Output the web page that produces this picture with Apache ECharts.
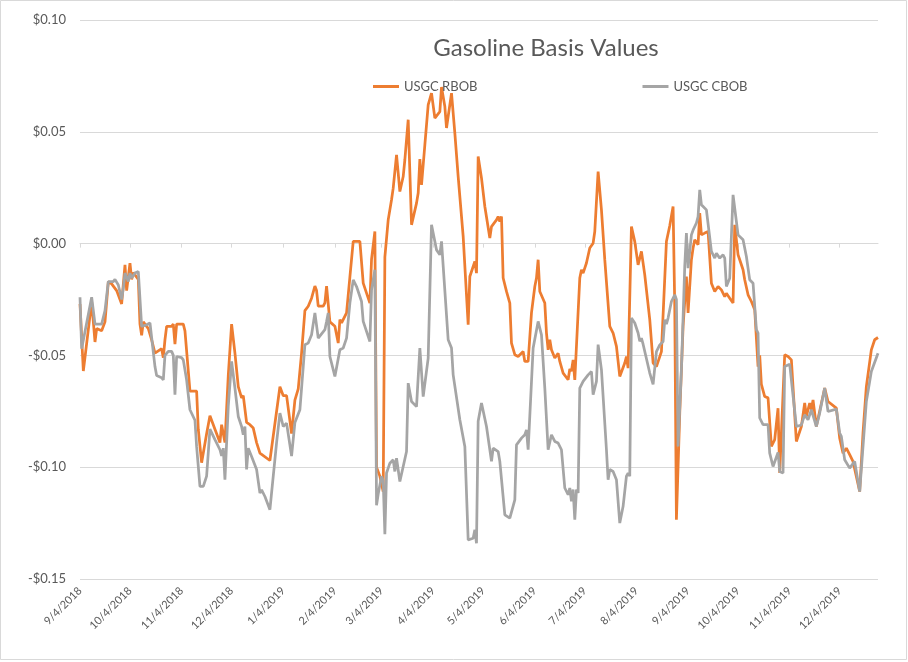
<!DOCTYPE html>
<html>
<head>
<meta charset="utf-8">
<script src="https://cdn.jsdelivr.net/npm/echarts@6/dist/echarts.min.js"></script>
<style>
html,body{margin:0;padding:0;background:#fff;}
#chart{width:908px;height:662px;}
</style>
</head>
<body>
<div id="chart"></div>
<script>
const chartTitle = 'Gasoline Basis Values';
const seriesNames = ['USGC RBOB', 'USGC CBOB'];
const axisStart = '2018-09-04';
const axisEnd = '2019-12-27';
const tickDates = ['2018-09-04','2018-10-04','2018-11-04','2018-12-04','2019-01-04','2019-02-04','2019-03-04','2019-04-04','2019-05-04','2019-06-04','2019-07-04','2019-08-04','2019-09-04','2019-10-04','2019-11-04','2019-12-04'];
const yMin = -0.15, yMax = 0.10, yStep = 0.05;

const rbob = [
['2018-09-04',-0.027],['2018-09-06',-0.057],['2018-09-11',-0.026],['2018-09-13',-0.044],['2018-09-14',-0.038],['2018-09-17',-0.039],['2018-09-19',-0.035],['2018-09-21',-0.017],['2018-09-23',-0.018],['2018-09-26',-0.021],['2018-09-29',-0.027],
['2018-10-01',-0.0095],['2018-10-02',-0.021],['2018-10-04',-0.0087],['2018-10-05',-0.016],['2018-10-06',-0.013],['2018-10-08',-0.015],['2018-10-09',-0.016],['2018-10-10',-0.036],['2018-10-11',-0.041],['2018-10-12',-0.035],['2018-10-13',-0.036],['2018-10-15',-0.038],['2018-10-17',-0.043],['2018-10-19',-0.049],['2018-10-21',-0.048],['2018-10-23',-0.047],['2018-10-24',-0.051],['2018-10-25',-0.043],['2018-10-26',-0.037],['2018-10-29',-0.037],['2018-10-30',-0.036],['2018-10-31',-0.045],
['2018-11-01',-0.036],['2018-11-05',-0.036],['2018-11-06',-0.039],['2018-11-09',-0.066],['2018-11-13',-0.066],['2018-11-14',-0.083],['2018-11-16',-0.098],['2018-11-19',-0.085],['2018-11-21',-0.077],['2018-11-24',-0.083],['2018-11-27',-0.089],['2018-11-28',-0.081],['2018-11-29',-0.081],['2018-11-30',-0.089],
['2018-12-02',-0.059],['2018-12-04',-0.036],['2018-12-06',-0.049],['2018-12-08',-0.064],['2018-12-10',-0.069],['2018-12-11',-0.068],['2018-12-13',-0.080],['2018-12-14',-0.0795],['2018-12-15',-0.081],['2018-12-17',-0.0825],['2018-12-19',-0.089],['2018-12-21',-0.0937],['2018-12-22',-0.093],['2018-12-27',-0.097],
['2019-01-02',-0.064],['2019-01-04',-0.068],['2019-01-06',-0.068],['2019-01-07',-0.0676],['2019-01-09',-0.085],['2019-01-11',-0.070],['2019-01-13',-0.065],['2019-01-15',-0.049],['2019-01-17',-0.030],['2019-01-19',-0.028],['2019-01-21',-0.0244],['2019-01-23',-0.019],['2019-01-24',-0.021],['2019-01-25',-0.028],['2019-01-28',-0.028],['2019-01-29',-0.0265],['2019-01-30',-0.019],['2019-01-31',-0.019],
['2019-02-01',-0.035],['2019-02-04',-0.037],['2019-02-06',-0.0445],['2019-02-07',-0.034],['2019-02-08',-0.0355],['2019-02-11',-0.031],['2019-02-13',-0.015],['2019-02-15',0.001],['2019-02-19',0.001],['2019-02-21',-0.0177],['2019-02-22',-0.0185],['2019-02-25',-0.0266],['2019-02-26',-0.007],['2019-02-28',0.0054],
['2019-03-01',-0.100],['2019-03-03',-0.104],['2019-03-05',-0.111],['2019-03-06',-0.006],['2019-03-07',-0.006],['2019-03-08',0.0106],['2019-03-10',0.0196],['2019-03-11',0.0248],['2019-03-12',0.0248],['2019-03-13',0.0397],['2019-03-14',0.0315],['2019-03-15',0.0233],['2019-03-17',0.030],['2019-03-18',0.0375],['2019-03-20',0.0554],['2019-03-22',0.0084],['2019-03-25',0.0181],['2019-03-26',0.0226],['2019-03-27',0.0378],['2019-03-28',0.0263],['2019-03-30',0.0442],
['2019-04-01',0.062],['2019-04-03',0.0673],['2019-04-05',0.0561],['2019-04-08',0.059],['2019-04-09',0.070],['2019-04-11',0.0613],['2019-04-12',0.0517],['2019-04-15',0.0673],['2019-04-17',0.0494],['2019-04-19',0.030],['2019-04-22',0.0032],['2019-04-25',-0.0363],['2019-04-26',-0.0147],['2019-04-29',-0.008],['2019-04-30',-0.0132],
['2019-05-01',0.039],['2019-05-03',0.0293],['2019-05-05',0.0166],['2019-05-08',0.0025],['2019-05-09',0.0076],['2019-05-12',0.0106],['2019-05-13',0.0121],['2019-05-14',0.0099],['2019-05-15',0.0121],['2019-05-16',-0.0154],['2019-05-18',-0.0214],['2019-05-20',-0.0266],['2019-05-21',-0.0445],['2019-05-23',-0.0497],['2019-05-25',-0.0505],['2019-05-28',-0.0483],['2019-05-29',-0.0527],['2019-05-30',-0.052],['2019-05-31',-0.0527],
['2019-06-02',-0.031],['2019-06-04',-0.0192],['2019-06-05',-0.0154],['2019-06-06',-0.0072],['2019-06-07',-0.0214],['2019-06-10',-0.0266],['2019-06-11',-0.040],['2019-06-12',-0.0475],['2019-06-13',-0.043],['2019-06-14',-0.0475],['2019-06-16',-0.0512],['2019-06-18',-0.049],['2019-06-19',-0.0527],['2019-06-20',-0.052],['2019-06-21',-0.0579],['2019-06-24',-0.0609],['2019-06-25',-0.0561],['2019-06-26',-0.057],['2019-06-27',-0.052],['2019-06-28',-0.061],
['2019-07-01',-0.0154],['2019-07-02',-0.0117],['2019-07-03',-0.0132],['2019-07-05',-0.0087],['2019-07-07',-0.002],['2019-07-09',0.0002],['2019-07-10',0.0054],['2019-07-12',0.0322],['2019-07-14',0.0151],['2019-07-16',-0.0072],['2019-07-19',-0.037],['2019-07-21',-0.040],['2019-07-23',-0.046],['2019-07-25',-0.0594],['2019-07-28',-0.0534],['2019-07-29',-0.0505],['2019-07-30',-0.0557],
['2019-08-01',0.0076],['2019-08-03',0.0009],['2019-08-05',-0.0095],['2019-08-07',-0.0035],['2019-08-09',-0.014],['2019-08-12',-0.034],['2019-08-14',-0.0534],['2019-08-16',-0.055],['2019-08-19',-0.0483],['2019-08-20',-0.0475],['2019-08-22',0.0009],['2019-08-24',0.008],['2019-08-26',0.0166],['2019-08-27',-0.028],['2019-08-28',-0.1235],['2019-08-30',-0.0758],
['2019-09-01',-0.037],['2019-09-03',-0.0147],['2019-09-04',-0.031],['2019-09-06',-0.0072],['2019-09-07',-0.002],['2019-09-08',0.0017],['2019-09-10',-0.0005],['2019-09-11',0.0136],['2019-09-12',0.0039],['2019-09-14',0.0047],['2019-09-16',0.0054],['2019-09-18',-0.0177],['2019-09-20',-0.0214],['2019-09-22',-0.0192],['2019-09-24',-0.0207],['2019-09-26',-0.0237],['2019-09-27',-0.0222],['2019-09-29',-0.0244],
['2019-10-01',-0.0266],['2019-10-02',0.0084],['2019-10-04',-0.005],['2019-10-07',-0.0117],['2019-10-08',-0.0162],['2019-10-10',-0.0229],['2019-10-11',-0.0229],['2019-10-12',-0.0259],['2019-10-14',-0.0296],['2019-10-16',-0.055],['2019-10-17',-0.050],['2019-10-18',-0.063],['2019-10-20',-0.0684],['2019-10-22',-0.069],['2019-10-24',-0.0907],['2019-10-26',-0.0877],['2019-10-28',-0.0736],['2019-10-29',-0.1026],
['2019-11-01',-0.0497],['2019-11-03',-0.0505],['2019-11-05',-0.052],['2019-11-08',-0.0885],['2019-11-11',-0.0818],['2019-11-13',-0.0713],['2019-11-14',-0.0773],['2019-11-16',-0.0713],['2019-11-17',-0.0743],['2019-11-18',-0.0699],['2019-11-20',-0.0818],['2019-11-25',-0.0646],['2019-11-27',-0.0706],
['2019-12-02',-0.0736],['2019-12-04',-0.087],['2019-12-06',-0.0937],['2019-12-08',-0.0915],['2019-12-10',-0.0944],['2019-12-12',-0.0974],['2019-12-13',-0.0974],['2019-12-16',-0.1109],['2019-12-18',-0.0847],['2019-12-20',-0.064],['2019-12-23',-0.0475],['2019-12-25',-0.043],['2019-12-27',-0.042]
];

const cbob = [
['2018-09-04',-0.024],['2018-09-05',-0.047],['2018-09-11',-0.024],['2018-09-13',-0.036],['2018-09-17',-0.036],['2018-09-19',-0.030],['2018-09-21',-0.017],['2018-09-24',-0.017],['2018-09-25',-0.016],['2018-09-27',-0.0185],['2018-09-29',-0.025],['2018-09-30',-0.020],
['2018-10-01',-0.0132],['2018-10-03',-0.0169],['2018-10-04',-0.0132],['2018-10-05',-0.0154],['2018-10-07',-0.0132],['2018-10-09',-0.0125],['2018-10-11',-0.037],['2018-10-14',-0.0363],['2018-10-16',-0.0355],['2018-10-17',-0.0348],['2018-10-19',-0.055],['2018-10-20',-0.059],['2018-10-23',-0.060],['2018-10-24',-0.061],['2018-10-25',-0.050],['2018-10-27',-0.0482],['2018-10-29',-0.0482],['2018-10-30',-0.050],['2018-10-31',-0.0676],
['2018-11-01',-0.0505],['2018-11-04',-0.051],['2018-11-05',-0.052],['2018-11-07',-0.061],['2018-11-09',-0.0743],['2018-11-12',-0.079],['2018-11-13',-0.0907],['2018-11-15',-0.1086],['2018-11-17',-0.1086],['2018-11-19',-0.104],['2018-11-21',-0.083],['2018-11-24',-0.0877],['2018-11-27',-0.0922],['2018-11-28',-0.095],['2018-11-29',-0.0915],['2018-11-30',-0.1056],
['2018-12-02',-0.0728],['2018-12-04',-0.0527],['2018-12-06',-0.0646],['2018-12-08',-0.0773],['2018-12-10',-0.0818],['2018-12-11',-0.0855],['2018-12-12',-0.0818],['2018-12-13',-0.101],['2018-12-14',-0.0915],['2018-12-16',-0.0952],['2018-12-19',-0.101],['2018-12-21',-0.1116],['2018-12-22',-0.1101],['2018-12-24',-0.1131],['2018-12-27',-0.119],['2018-12-31',-0.089],
['2019-01-02',-0.0758],['2019-01-04',-0.0818],['2019-01-06',-0.0803],['2019-01-07',-0.0795],['2019-01-09',-0.095],['2019-01-11',-0.080],['2019-01-14',-0.0743],['2019-01-16',-0.055],['2019-01-17',-0.0452],['2019-01-19',-0.0445],['2019-01-21',-0.0408],['2019-01-23',-0.031],['2019-01-25',-0.0423],['2019-01-29',-0.0385],['2019-01-30',-0.0348],['2019-01-31',-0.031],
['2019-02-01',-0.0505],['2019-02-04',-0.0594],['2019-02-05',-0.0587],['2019-02-07',-0.0475],['2019-02-09',-0.0467],['2019-02-11',-0.0423],['2019-02-13',-0.0266],['2019-02-15',-0.0162],['2019-02-17',-0.0192],['2019-02-20',-0.0259],['2019-02-21',-0.0348],['2019-02-22',-0.0348],['2019-02-25',-0.0438],['2019-02-26',-0.0207],['2019-02-28',-0.0117],
['2019-03-01',-0.117],['2019-03-02',-0.112],['2019-03-04',-0.104],['2019-03-05',-0.106],['2019-03-06',-0.130],['2019-03-07',-0.1026],['2019-03-08',-0.1004],['2019-03-09',-0.0982],['2019-03-11',-0.0967],['2019-03-12',-0.1019],['2019-03-13',-0.096],['2019-03-15',-0.1064],['2019-03-19',-0.093],['2019-03-20',-0.0624],['2019-03-22',-0.0706],['2019-03-25',-0.0729],['2019-03-27',-0.0467],['2019-03-29',-0.0684],
['2019-04-01',-0.0512],['2019-04-03',0.0084],['2019-04-04',0.0076],['2019-04-06',-0.0028],['2019-04-08',-0.005],['2019-04-09',0.001],['2019-04-13',-0.043],['2019-04-15',-0.0467],['2019-04-16',-0.0587],['2019-04-20',-0.0788],['2019-04-23',-0.0907],['2019-04-25',-0.1325],['2019-04-28',-0.1318],['2019-04-29',-0.128],['2019-04-30',-0.134],
['2019-05-01',-0.0795],['2019-05-03',-0.0713],['2019-05-06',-0.0818],['2019-05-07',-0.0818],['2019-05-09',-0.0974],['2019-05-10',-0.0915],['2019-05-13',-0.093],['2019-05-14',-0.0974],['2019-05-15',-0.0974],['2019-05-17',-0.1213],['2019-05-20',-0.1228],['2019-05-23',-0.1146],['2019-05-24',-0.090],['2019-05-27',-0.087],['2019-05-29',-0.0855],['2019-05-30',-0.0833],['2019-05-31',-0.0922],
['2019-06-03',-0.0467],['2019-06-06',-0.0348],['2019-06-08',-0.0408],['2019-06-10',-0.0646],['2019-06-12',-0.0922],['2019-06-13',-0.0915],['2019-06-14',-0.0855],['2019-06-16',-0.0885],['2019-06-18',-0.0892],['2019-06-20',-0.0922],['2019-06-22',-0.1093],['2019-06-24',-0.1123],['2019-06-25',-0.1093],['2019-06-26',-0.1153],['2019-06-27',-0.110],['2019-06-28',-0.1235],['2019-06-29',-0.110],['2019-06-30',-0.1115],
['2019-07-01',-0.0646],['2019-07-02',-0.0646],['2019-07-03',-0.0616],['2019-07-06',-0.0587],['2019-07-08',-0.0572],['2019-07-09',-0.0676],['2019-07-11',-0.0616],['2019-07-12',-0.0452],['2019-07-14',-0.0564],['2019-07-17',-0.0922],['2019-07-18',-0.1056],['2019-07-19',-0.101],['2019-07-21',-0.1019],['2019-07-23',-0.1056],['2019-07-25',-0.125],['2019-07-27',-0.1175],['2019-07-29',-0.104],['2019-07-30',-0.1027],['2019-07-31',-0.104],
['2019-08-01',-0.0333],['2019-08-03',-0.0355],['2019-08-05',-0.040],['2019-08-06',-0.0437],['2019-08-07',-0.0423],['2019-08-08',-0.045],['2019-08-12',-0.0579],['2019-08-14',-0.063],['2019-08-16',-0.0483],['2019-08-18',-0.0453],['2019-08-20',-0.0438],['2019-08-21',-0.034],['2019-08-22',-0.036],['2019-08-23',-0.0333],['2019-08-25',-0.0259],['2019-08-27',-0.0229],['2019-08-28',-0.025],['2019-08-29',-0.0907],['2019-08-31',-0.0564],
['2019-09-02',-0.0102],['2019-09-03',0.0047],['2019-09-04',-0.011],['2019-09-06',0.0039],['2019-09-07',0.006],['2019-09-09',0.0092],['2019-09-10',0.0121],['2019-09-11',0.024],['2019-09-12',0.0174],['2019-09-15',0.0151],['2019-09-16',0.0143],['2019-09-18',-0.0035],['2019-09-20',-0.0065],['2019-09-21',-0.0043],['2019-09-23',-0.0065],['2019-09-25',-0.005],['2019-09-26',-0.0065],['2019-09-27',-0.0192],['2019-09-29',-0.0155],['2019-09-30',-0.0147],
['2019-10-01',0.0218],['2019-10-02',0.021],['2019-10-04',0.0039],['2019-10-07',0.0017],['2019-10-09',-0.0058],['2019-10-11',-0.0162],['2019-10-13',-0.0177],['2019-10-15',-0.0385],['2019-10-16',-0.040],['2019-10-17',-0.078],['2019-10-19',-0.081],['2019-10-22',-0.081],['2019-10-23',-0.0937],['2019-10-25',-0.0997],['2019-10-26',-0.0997],['2019-10-28',-0.0934],['2019-10-29',-0.1019],['2019-10-31',-0.1026],
['2019-11-01',-0.055],['2019-11-04',-0.054],['2019-11-08',-0.0818],['2019-11-11',-0.0811],['2019-11-13',-0.0766],['2019-11-15',-0.0788],['2019-11-17',-0.0743],['2019-11-20',-0.0818],['2019-11-22',-0.0758],['2019-11-25',-0.0646],['2019-11-27',-0.0751],
['2019-12-02',-0.074],['2019-12-04',-0.0847],['2019-12-05',-0.0862],['2019-12-07',-0.0967],['2019-12-08',-0.0967],['2019-12-10',-0.1004],['2019-12-13',-0.0974],['2019-12-16',-0.1109],['2019-12-20',-0.0706],['2019-12-23',-0.0572],['2019-12-27',-0.049]
];

const DAY = 86400000;
function toUTC(s){ const p = s.split('-').map(Number); return Date.UTC(p[0], p[1]-1, p[2]); }
const T0 = toUTC(axisStart);
function dayOf(s){ return Math.round((toUTC(s) - T0) / DAY); }
function fmtDate(off){ const d = new Date(T0 + Math.round(off) * DAY); return (d.getUTCMonth()+1) + '/' + d.getUTCDate() + '/' + d.getUTCFullYear(); }
function fmtMoney(v){ if (Math.abs(v) < 1e-9) return '$0.00'; return (v < 0 ? '-' : '') + '$' + Math.abs(v).toFixed(2); }

const tickOffsets = tickDates.map(dayOf);
const xMax = dayOf(axisEnd);
const font = 'Lato, "Open Sans", sans-serif';

const chart = echarts.init(document.getElementById('chart'), null, {renderer: 'canvas'});
chart.setOption({
  animation: false,
  backgroundColor: '#ffffff',
  graphic: [{
    type: 'rect', silent: true, z: -10,
    shape: {x: 0.5, y: 0.5, width: 906, height: 659},
    style: {fill: 'none', stroke: '#d9d9d9', lineWidth: 1}
  }],
  title: {
    text: chartTitle,
    left: 541, top: 31, textAlign: 'center',
    textStyle: {fontFamily: font, fontSize: 24, fontWeight: 'normal', color: '#595959'}
  },
  legend: {
    data: [{name: seriesNames[0], icon: 'rect'}, {name: seriesNames[1], icon: 'rect'}],
    left: 368, top: 75,
    itemWidth: 26, itemHeight: 3, itemGap: 165,
    textStyle: {fontFamily: font, fontSize: 13, color: '#595959'}
  },
  grid: {left: 80, right: 30, top: 20, bottom: 83, containLabel: false},
  xAxis: [{
    type: 'value', min: 0, max: xMax, position: 'bottom',
    axisLine: {show: true, onZero: true, lineStyle: {color: '#d9d9d9', width: 1}},
    axisTick: {show: true, customValues: tickOffsets, length: 4, lineStyle: {color: '#d9d9d9'}},
    axisLabel: {show: false},
    splitLine: {show: false}
  }, {
    type: 'value', min: 0, max: xMax, position: 'bottom',
    axisLine: {show: false, onZero: false},
    axisTick: {show: false},
    splitLine: {show: false},
    axisLabel: {
      show: true, customValues: tickOffsets, rotate: 45, margin: 10,
      formatter: fmtDate,
      fontFamily: font, fontSize: 11, color: '#595959'
    }
  }],
  yAxis: {
    type: 'value', min: yMin, max: yMax, interval: yStep,
    axisLine: {show: false}, axisTick: {show: false},
    splitLine: {show: true, lineStyle: {color: '#d9d9d9', width: 1}},
    axisLabel: {formatter: fmtMoney, fontFamily: font, fontSize: 13, color: '#595959', margin: 14}
  },
  series: [{
    name: seriesNames[0], type: 'line', xAxisIndex: 0, showSymbol: false, symbol: 'none',
    color: '#ED7D31', lineStyle: {width: 2.75, color: '#ED7D31'},
    data: rbob.map(r => [dayOf(r[0]), r[1]])
  }, {
    name: seriesNames[1], type: 'line', xAxisIndex: 0, showSymbol: false, symbol: 'none',
    color: '#A5A5A5', lineStyle: {width: 2.75, color: '#A5A5A5'},
    data: cbob.map(r => [dayOf(r[0]), r[1]])
  }]
});
</script>
</body>
</html>
